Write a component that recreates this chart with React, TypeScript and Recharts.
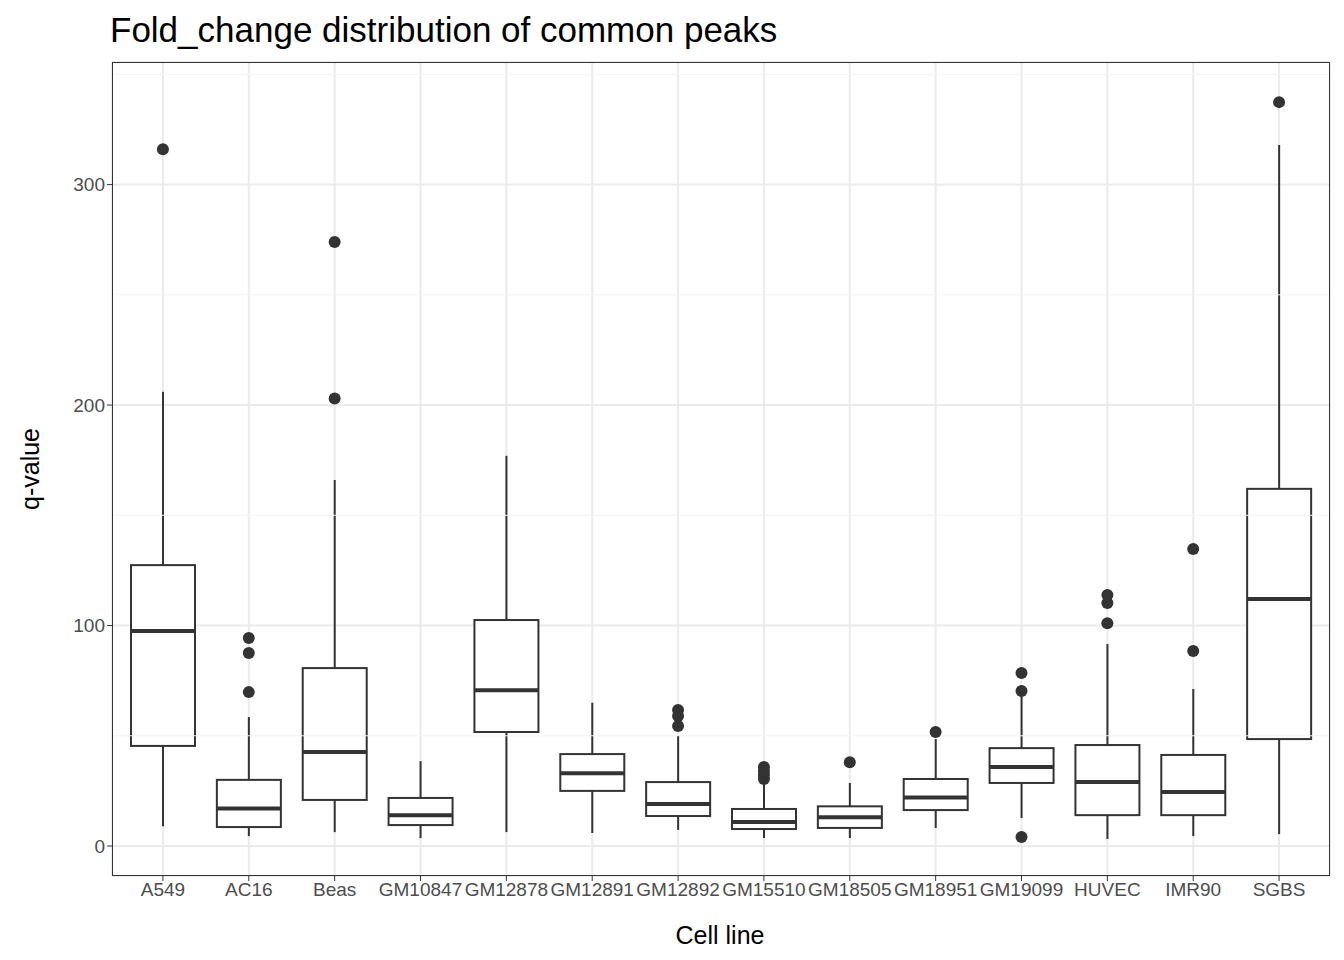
import { Bar, CartesianGrid, ComposedChart, ReferenceLine, Scatter, XAxis, YAxis } from "recharts";

const cells = ["A549", "AC16", "Beas", "GM10847", "GM12878", "GM12891", "GM12892", "GM15510", "GM18505", "GM18951", "GM19099", "HUVEC", "IMR90", "SGBS"];
const lows = [9, 4.5, 6.3, 3.6, 6.3, 5.9, 7.3, 3.6, 3.6, 8.2, 12.7, 3.2, 4.5, 5.4];
const q1s = [45.4, 8.6, 20.9, 9.5, 51.7, 25, 13.6, 7.7, 8.2, 16.3, 28.6, 14, 14, 48.5];
const medians = [97.5, 17, 42.6, 14, 70.7, 33, 19, 10.9, 13, 22, 35.8, 29, 24.5, 112];
const q3s = [127.4, 30, 80.7, 21.8, 102.5, 41.7, 29, 16.8, 18, 30.4, 44.4, 45.8, 41.3, 162];
const highs = [206, 58.5, 166, 38.5, 177, 65, 50, 29, 28.6, 48.5, 70.7, 91.6, 71.2, 318];
const outlierCells = ["A549", "AC16", "AC16", "AC16", "Beas", "Beas", "GM12892", "GM12892", "GM12892", "GM15510", "GM15510", "GM15510", "GM15510", "GM18505", "GM18951", "GM19099", "GM19099", "GM19099", "HUVEC", "HUVEC", "HUVEC", "IMR90", "IMR90", "SGBS"];
const outlierValues = [316, 94.3, 87.5, 69.8, 274, 203, 61.7, 59, 54.4, 35.8, 34, 32.2, 30.4, 38, 51.7, 78.5, 70.3, 4.1, 113.8, 110.2, 101, 134.7, 88.4, 337.4];
const yTicks = [0, 100, 200, 300];
const minorTicks = [50, 150, 250, 350];

const data = cells.map((cell, i) => ({
  cell,
  range: [lows[i], highs[i]],
  q1: q1s[i],
  median: medians[i],
  q3: q3s[i],
}));
const outliers = outlierCells.map((cell, i) => ({ cell, v: outlierValues[i] }));

const INK = "#333333";

function BoxShape(props: any) {
  const { x, y, width, height, payload } = props;
  const [lo, hi] = payload.range;
  const k = height / (hi - lo);
  const py = (v: number) => y + (hi - v) * k;
  const cx = x + width / 2;
  return (
    <g stroke={INK} fill="#fff">
      <line x1={cx} x2={cx} y1={py(hi)} y2={py(payload.q3)} strokeWidth={2} />
      <line x1={cx} x2={cx} y1={py(payload.q1)} y2={py(lo)} strokeWidth={2} />
      <rect x={x} y={py(payload.q3)} width={width} height={py(payload.q1) - py(payload.q3)} strokeWidth={2} />
      <line x1={x} x2={x + width} y1={py(payload.median)} y2={py(payload.median)} strokeWidth={4} />
    </g>
  );
}

const tick = { fontSize: 19, fill: "#4d4d4d", fontFamily: "Liberation Sans, Arial, sans-serif" };

export default function App() {
  return (
    <div style={{ position: "relative", width: 1344, height: 960, margin: -8, background: "#fff", fontFamily: "Liberation Sans, Arial, sans-serif" }}>
      <div style={{ position: "absolute", left: 110, top: 10, fontSize: 35, color: "#000" }}>Fold_change distribution of common peaks</div>
      <div style={{ position: "absolute", left: 30, top: 469, fontSize: 25, transform: "translate(-50%,-50%) rotate(-90deg)" }}>q-value</div>
      <div style={{ position: "absolute", left: 720, top: 935, fontSize: 25, transform: "translate(-50%,-50%)" }}>Cell line</div>
      <ComposedChart width={1344} height={960} data={data} margin={{ top: 62, right: 14, bottom: 0, left: 0 }}>
        {minorTicks.map((v) => (
          <ReferenceLine key={v} y={v} stroke="#f2f2f2" strokeWidth={1} />
        ))}
        <CartesianGrid stroke="#ebebeb" strokeWidth={2} />
        <XAxis dataKey="cell" type="category" allowDuplicatedCategory={false} height={84} padding={{ left: 8, right: 8 }} tick={tick} tickLine={{ stroke: INK }} tickSize={5} axisLine={false} interval={0} />
        <YAxis type="number" domain={[-13.6, 355.6]} ticks={yTicks} width={112} tick={tick} tickLine={{ stroke: INK }} tickSize={5} axisLine={false} />
        <Bar dataKey="range" barSize={64} shape={BoxShape} isAnimationActive={false} />
        <Scatter data={outliers} dataKey="v" fill={INK} shape={(p: any) => <circle cx={p.cx} cy={p.cy} r={6} fill={INK} />} isAnimationActive={false} />
      </ComposedChart>
      <div style={{ position: "absolute", left: 112, top: 62, width: 1218, height: 814, border: `1px solid ${INK}`, boxSizing: "border-box", pointerEvents: "none" }} />
    </div>
  );
}
